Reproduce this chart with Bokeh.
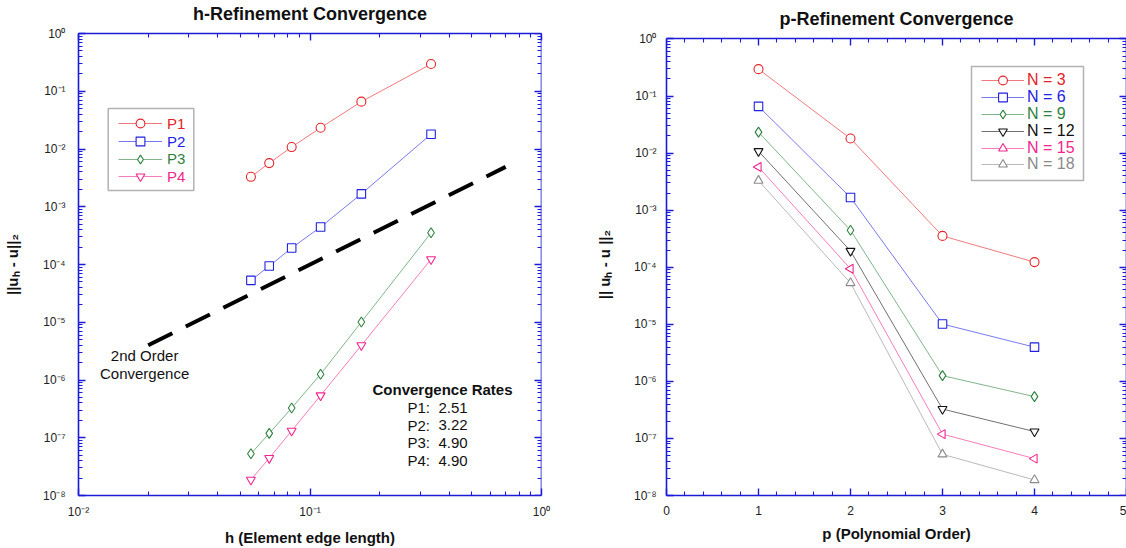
import math
from bokeh.plotting import figure
from bokeh.models import (LogAxis, LinearAxis, Legend, LegendItem, Label, CustomJSTickFormatter,
                          FixedTicker, BoxAnnotation, Range1d)
from bokeh.layouts import row
from bokeh.core.properties import value
from bokeh.embed import file_html
from bokeh.resources import INLINE

# ---------------- data ----------------
N_values = [3, 6, 9, 12, 15, 18]
h_values = [1 / 3, 1 / 6, 1 / 9, 1 / 12, 1 / 15, 1 / 18]
p_orders = [1, 2, 3, 4]

# error ||u_h - u||_2 for each mesh (N) at polynomial order p = 1..4
err_N3 = [2.96e-1, 1.80e-2, 3.54e-4, 1.23e-4]
err_N6 = [6.60e-2, 1.67e-3, 1.01e-5, 3.98e-6]
err_N9 = [2.33e-2, 4.45e-4, 1.26e-6, 5.40e-7]
err_N12 = [1.08e-2, 1.93e-4, 3.27e-7, 1.32e-7]
err_N15 = [5.70e-3, 9.40e-5, 1.19e-7, 4.43e-8]
err_N18 = [3.30e-3, 5.30e-5, 5.27e-8, 1.87e-8]
err_by_N = [err_N3, err_N6, err_N9, err_N12, err_N15, err_N18]

series_P = ["P1", "P2", "P3", "P4"]
rates = ["2.51", "3.22", "4.90", "4.90"]

ref_h = [0.02, 0.7]                      # 2nd order reference line
ref_err = [0.01 * h ** 2 for h in ref_h]

# ---------------- style ----------------
FONT = "Liberation Sans"
AX = "#1c1cd8"
RED, BLUE, GREEN, PINK, BLACK, GRAY = "#e3222a", "#2020e0", "#2f8040", "#f0268c", "#111111", "#8a8a8a"

sup_fmt = CustomJSTickFormatter(code="""
const s = {'-':'\u207b','0':'\u2070','1':'\u00b9','2':'\u00b2','3':'\u00b3','4':'\u2074',
           '5':'\u2075','6':'\u2076','7':'\u2077','8':'\u2078','9':'\u2079'};
const e = Math.round(Math.log10(tick));
return '10' + String(e).split('').map(c => s[c]).join('');
""")
blank_fmt = CustomJSTickFormatter(code="return '';")


def style_axis(ax, labelled=True):
    ax.axis_line_color = AX
    ax.axis_line_width = 1.6
    ax.major_tick_line_color = AX
    ax.minor_tick_line_color = AX
    ax.major_tick_line_width = 1.4
    ax.minor_tick_line_width = 1.1
    ax.major_tick_in = 7
    ax.major_tick_out = 0
    ax.minor_tick_in = 4
    ax.minor_tick_out = 0
    ax.major_label_text_font = FONT
    ax.major_label_text_font_size = "12px" if labelled else "0px"
    ax.major_label_text_color = "#222222"
    ax.axis_label_text_font = FONT
    ax.axis_label_text_font_size = "15px"
    ax.axis_label_text_font_style = "bold"
    ax.axis_label_text_color = "#111111"
    if not labelled:
        ax.major_label_standoff = 0
        ax.formatter = blank_fmt


def log_ticker(lo, hi):
    majors = [10.0 ** e for e in range(lo, hi + 1)]
    minors = [m * 10.0 ** e for e in range(lo, hi) for m in range(2, 10)]
    return FixedTicker(ticks=majors, minor_ticks=minors)


def single_legend(p, renderers, text, color, x, yc, size, gw, standoff):
    lg = Legend(items=[LegendItem(label=value(text), renderers=renderers)],
                location=(x, yc - 11), orientation="vertical",
                border_line_alpha=0, background_fill_alpha=0, padding=0, margin=0, spacing=0,
                glyph_width=gw, glyph_height=22, label_height=22, label_standoff=standoff,
                label_text_font=FONT, label_text_font_size=size, label_text_color=color)
    p.add_layout(lg, "center")


def title_axis(p, ax, text, standoff, show_line=True):
    # top axis that carries the chart title as its label
    style_axis(ax, False)
    ax.axis_label = text
    ax.axis_label_text_font_size = "18px"
    ax.axis_label_standoff = standoff
    if not show_line:
        ax.axis_line_alpha = 0
        ax.major_tick_line_alpha = 0
        ax.minor_tick_line_alpha = 0
    p.add_layout(ax, "above")


# ---------------- left: h-refinement ----------------
left = figure(width=560, height=548, x_axis_type="log", y_axis_type="log",
              x_range=Range1d(0.01, 1), y_range=Range1d(1e-8, 1),
              output_backend="svg", toolbar_location=None, title=None,
              min_border_left=78, min_border_right=19, min_border_top=32, min_border_bottom=53)
left.outline_line_color = None
left.xgrid.visible = False
left.ygrid.visible = False

left.xaxis.ticker = log_ticker(-2, 0)
left.yaxis.ticker = log_ticker(-8, 0)
left.xaxis.formatter = sup_fmt
left.yaxis.formatter = sup_fmt
left.xaxis.axis_label = "h (Element edge length)"
left.yaxis.axis_label = "||u\u2095 - u||\u2082"
for ax in left.xaxis + left.yaxis:
    style_axis(ax)
left.yaxis.major_label_standoff = 13
left.yaxis.axis_label_standoff = 19
left.xaxis.major_label_standoff = 9
left.xaxis.axis_label_standoff = 7
title_axis(left, LogAxis(ticker=log_ticker(-2, 0)), "h-Refinement Convergence", 10)
ra = LogAxis(ticker=log_ticker(-8, 0), fixed_location=1.0)
style_axis(ra, False)
left.add_layout(ra, "right")

left.line(ref_h, ref_err, line_color="black", line_width=4, line_dash="27 15")

p_style = [("circle", RED, 9), ("square", BLUE, 8.5), ("diamond", GREEN, 10), ("inverted_triangle", PINK, 9)]
leg_y = [371.7, 354.0, 336.3, 318.7]
for k, name in enumerate(series_P):
    marker, color, size = p_style[k]
    ys = [err[k] for err in err_by_N]
    lr = left.line(h_values, ys, line_color=color, line_width=1, line_alpha=0.6)
    sr = left.scatter(h_values, ys, marker=marker, size=size, line_color=color, line_width=1.1,
                      fill_color="white")
    single_legend(left, [lr, sr], name, color, 40, leg_y[k], "15px", 44, 5)

left.add_layout(BoxAnnotation(left=29.7, right=115.3, bottom=305, top=387,
                              left_units="screen", right_units="screen",
                              top_units="screen", bottom_units="screen",
                              fill_alpha=0, line_color="black", line_width=1.5))

for txt, ly in [("2nd Order", -5.58), ("Convergence", -5.89)]:
    left.add_layout(Label(x=0.0193, y=10 ** ly, text=txt, text_align="center", text_baseline="middle",
                          text_font=FONT, text_font_size="15px", text_color="#111111"))
left.add_layout(Label(x=0.3736, y=10 ** -6.168, text="Convergence Rates", text_align="center",
                      text_baseline="middle", text_font=FONT, text_font_size="15px",
                      text_font_style="bold", text_color="#111111"))
for k, (name, r) in enumerate(zip(series_P, rates)):
    yy = 10 ** (-6.48 - 0.305 * k)
    left.add_layout(Label(x=0.2636, y=yy, text=name + ":", text_align="left", text_baseline="middle",
                          text_font=FONT, text_font_size="15px", text_color="#111111"))
    left.add_layout(Label(x=0.3586, y=yy, text=r, text_align="left", text_baseline="middle",
                          text_font=FONT, text_font_size="15px", text_color="#111111"))

# ---------------- right: p-refinement ----------------
# plots in a row share frame top/bottom; the right box starts a little lower, so its
# range is extended slightly above 10^0 and the axes are bounded at 10^0
right = figure(width=566, height=548, y_axis_type="log",
               x_range=Range1d(0, 5), y_range=Range1d(1e-8, 1.248),
               output_backend="svg", toolbar_location=None, title=None,
               min_border_left=106, min_border_right=0, min_border_top=32, min_border_bottom=53)
right.outline_line_color = None
right.xgrid.visible = False
right.ygrid.visible = False

lin_ticker = FixedTicker(ticks=[0, 1, 2, 3, 4, 5],
                         minor_ticks=[round(0.2 * i, 1) for i in range(26) if i % 5])
right.xaxis.ticker = lin_ticker
right.yaxis.ticker = log_ticker(-8, 0)
right.yaxis.formatter = sup_fmt
right.yaxis.bounds = (1e-8, 1)
right.xaxis.axis_label = "p (Polynomial Order)"
right.yaxis.axis_label = "|| u\u2095 - u ||\u2082"
for ax in right.xaxis + right.yaxis:
    style_axis(ax)
right.yaxis.major_label_standoff = 10
right.yaxis.axis_label_standoff = 18
right.xaxis.major_label_standoff = 10
right.xaxis.axis_label_standoff = 7
# invisible top axis carrying the title, then the visible top edge drawn at 10^0
title_axis(right, LinearAxis(ticker=lin_ticker), "p-Refinement Convergence", 5, show_line=False)
top2 = LinearAxis(ticker=lin_ticker, fixed_location=1.0)
style_axis(top2, False)
right.add_layout(top2, "above")
# right-edge mirror ticks: an axis kept in the left panel but drawn at p = 5
ra2 = LogAxis(ticker=log_ticker(-8, 0), fixed_location=5.0, bounds=(1e-8, 1))
style_axis(ra2, False)
ra2.major_tick_in, ra2.major_tick_out = 0, 7
ra2.minor_tick_in, ra2.minor_tick_out = 0, 4
right.add_layout(ra2, "left")

n_style = [("circle", RED, 9, 0), ("square", BLUE, 8.5, 0), ("diamond", GREEN, 10, 0),
           ("inverted_triangle", BLACK, 9, 0), ("triangle", PINK, 9, math.pi / 2),
           ("triangle", GRAY, 9, 0)]
n_text_col = [RED, BLUE, GREEN, BLACK, PINK, GRAY]
leg_y2 = [414.7, 397.9, 381.1, 364.3, 347.5, 330.7]
for i, N in enumerate(N_values):
    marker, color, size, ang = n_style[i]
    lr = right.line(p_orders, err_by_N[i], line_color=color, line_width=1, line_alpha=0.6)
    sr = right.scatter(p_orders, err_by_N[i], marker=marker, size=size, angle=ang,
                       line_color=color, line_width=1.1, fill_color="white")
    single_legend(right, [lr, sr], f"N = {N}", n_text_col[i], 315, leg_y2[i], "16px", 43, 3)

right.add_layout(BoxAnnotation(left=305, right=417, bottom=315, top=429,
                               left_units="screen", right_units="screen",
                               top_units="screen", bottom_units="screen",
                               fill_alpha=0, line_color="black", line_width=1.5))

layout = row(left, right)
open("out.html", "w").write(file_html(layout, INLINE))
